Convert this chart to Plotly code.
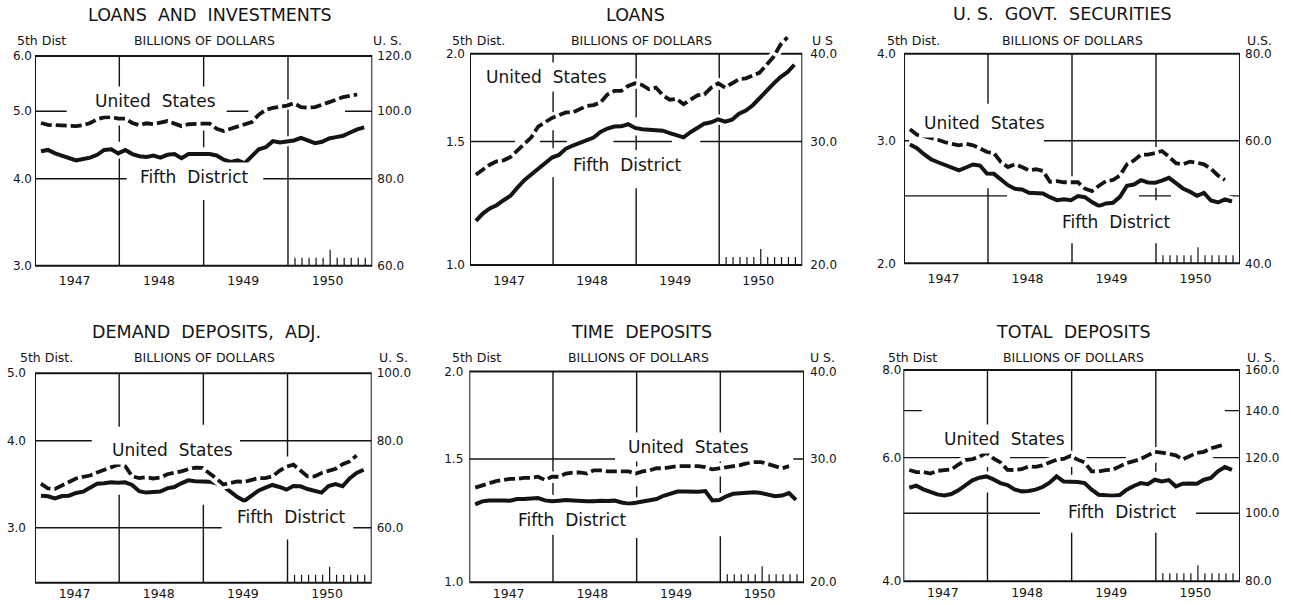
import math
import plotly.graph_objects as go

# ---------------- data: billions of dollars, monthly, Jan 1947 - Nov 1950 ----------------
months = [f"{1947 + i // 12}-{i % 12 + 1:02d}" for i in range(47)]
year_labels = ["1947", "1948", "1949", "1950"]

loans_inv_fd = [4.38, 4.40, 4.35, 4.32, 4.29, 4.25, 4.27, 4.29, 4.33, 4.40,
                4.41, 4.35, 4.40, 4.34, 4.31, 4.30, 4.32, 4.29, 4.33, 4.34,
                4.28, 4.34, 4.34, 4.34, 4.34, 4.32, 4.26, 4.23, 4.25, 4.21,
                4.31, 4.41, 4.44, 4.53, 4.51, 4.52, 4.54, 4.58, 4.54, 4.50,
                4.52, 4.57, 4.59, 4.61, 4.66, 4.71, 4.74]
loans_inv_us = [96.2, 95.6, 95.5, 95.4, 95.1, 95.2, 95.5, 96.2, 97.4, 98.0,
                98.1, 97.6, 97.6, 96.2, 95.5, 96.1, 95.8, 96.2, 96.8, 96.0,
                95.2, 95.8, 96.0, 96.0, 96.0, 94.4, 93.7, 94.4, 95.1, 95.6,
                96.5, 98.9, 100.5, 101.1, 101.4, 101.9, 102.7, 101.4, 101.2, 101.4,
                102.2, 102.9, 103.9, 104.8, 105.3, 105.7]

loans_fd = [1.156, 1.184, 1.204, 1.217, 1.237, 1.255, 1.289, 1.321, 1.346, 1.371,
            1.395, 1.423, 1.435, 1.465, 1.480, 1.493, 1.507, 1.519, 1.547, 1.565,
            1.575, 1.576, 1.587, 1.568, 1.561, 1.559, 1.561, 1.554, 1.542, 1.532,
            1.520, 1.546, 1.568, 1.590, 1.597, 1.613, 1.601, 1.611, 1.643, 1.660,
            1.689, 1.732, 1.768, 1.813, 1.853, 1.882, 1.929]
loans_us = [26.9, 27.4, 27.8, 28.1, 28.2, 28.5, 29.1, 29.8, 30.4, 31.5,
            32.0, 32.4, 32.7, 33.0, 33.0, 33.4, 33.7, 33.8, 34.1, 35.0,
            35.4, 35.4, 36.0, 36.3, 36.1, 35.6, 35.8, 34.9, 34.4, 34.5,
            33.9, 34.4, 34.9, 35.0, 35.8, 36.3, 35.8, 36.3, 36.8, 36.9,
            37.3, 37.6, 38.6, 39.6, 41.2, 42.2]

govt_fd = [2.962, 2.927, 2.869, 2.822, 2.794, 2.770, 2.742, 2.721, 2.746, 2.773,
           2.764, 2.692, 2.689, 2.639, 2.590, 2.559, 2.553, 2.525, 2.525, 2.520,
           2.489, 2.465, 2.473, 2.465, 2.498, 2.489, 2.449, 2.417, 2.438, 2.443,
           2.492, 2.585, 2.596, 2.633, 2.613, 2.610, 2.630, 2.654, 2.607, 2.562,
           2.534, 2.501, 2.525, 2.462, 2.446, 2.471, 2.454]
govt_us = [62.3, 61.2, 60.9, 60.6, 60.2, 59.7, 59.4, 59.1, 59.4, 59.1,
           58.5, 57.8, 57.6, 55.9, 55.0, 55.5, 55.0, 54.4, 54.6, 54.3,
           52.4, 52.5, 52.3, 52.3, 52.3, 51.2, 50.8, 51.7, 52.5, 52.7,
           53.5, 55.5, 56.2, 57.3, 57.3, 57.6, 58.0, 56.9, 55.7, 55.5,
           56.0, 55.8, 55.5, 54.7, 53.5, 52.7]

demand_fd = [3.335, 3.328, 3.305, 3.331, 3.335, 3.365, 3.380, 3.428, 3.470, 3.474,
             3.486, 3.482, 3.486, 3.455, 3.384, 3.369, 3.369, 3.380, 3.417, 3.432,
             3.474, 3.508, 3.497, 3.497, 3.493, 3.474, 3.440, 3.380, 3.320, 3.277,
             3.328, 3.391, 3.424, 3.455, 3.432, 3.402, 3.443, 3.440, 3.409, 3.384,
             3.369, 3.443, 3.466, 3.440, 3.531, 3.595, 3.634]
demand_us = [69.4, 68.3, 68.2, 69.0, 69.6, 70.6, 71.0, 71.3, 72.0, 72.6,
             73.2, 73.9, 73.6, 71.1, 70.7, 70.9, 70.6, 70.8, 71.6, 71.9,
             72.3, 72.8, 73.2, 73.1, 71.9, 70.6, 69.2, 69.6, 69.9, 69.8,
             70.2, 70.7, 70.7, 71.1, 72.4, 73.4, 73.9, 72.5, 71.1, 71.1,
             71.9, 72.4, 72.9, 74.0, 74.7, 76.2]

time_fd = [1.292, 1.305, 1.309, 1.311, 1.309, 1.308, 1.315, 1.315, 1.318, 1.319,
           1.309, 1.305, 1.308, 1.311, 1.309, 1.306, 1.305, 1.305, 1.308, 1.306,
           1.308, 1.300, 1.295, 1.299, 1.305, 1.308, 1.315, 1.329, 1.338, 1.348,
           1.348, 1.347, 1.347, 1.350, 1.309, 1.311, 1.327, 1.338, 1.341, 1.344,
           1.345, 1.341, 1.332, 1.327, 1.330, 1.341, 1.311]
time_us = [27.3, 27.5, 27.7, 27.9, 28.0, 28.1, 28.1, 28.2, 28.2, 28.3,
           28.0, 28.3, 28.3, 28.6, 28.7, 28.7, 28.6, 28.9, 28.9, 28.8,
           28.8, 28.8, 28.8, 28.6, 28.8, 28.9, 29.1, 29.1, 29.2, 29.3,
           29.3, 29.3, 29.3, 29.2, 29.0, 29.1, 29.2, 29.3, 29.4, 29.6,
           29.7, 29.7, 29.5, 29.3, 29.1, 29.3]

total_fd = [5.436, 5.472, 5.407, 5.354, 5.318, 5.301, 5.324, 5.389, 5.484, 5.568,
            5.617, 5.641, 5.586, 5.519, 5.484, 5.407, 5.371, 5.377, 5.401, 5.448,
            5.525, 5.641, 5.549, 5.549, 5.537, 5.519, 5.401, 5.312, 5.295, 5.295,
            5.307, 5.401, 5.466, 5.519, 5.500, 5.580, 5.549, 5.574, 5.460, 5.507,
            5.513, 5.507, 5.580, 5.611, 5.735, 5.817, 5.765]
total_us = [115.2, 114.4, 114.5, 113.9, 114.9, 115.1, 115.4, 117.3, 119.0, 119.4,
            120.3, 122.0, 119.7, 118.1, 115.3, 115.2, 115.5, 116.6, 116.4, 117.0,
            118.1, 119.2, 119.5, 120.7, 119.2, 118.1, 114.7, 114.7, 115.2, 115.3,
            116.6, 117.9, 118.6, 119.5, 120.9, 122.3, 122.0, 121.4, 120.9, 119.3,
            120.7, 121.9, 122.3, 123.7, 124.5, 125.3]

# ---------------- styling / layout ----------------
W, H = 1291, 605
FONT = "DejaVu Sans"
INK = "#141414"
NB = "\u00a0"
US_FACTOR = 20  # right (U.S.) scale = 20 x left (5th District) scale

# the photographed page shows the figure slightly letterboxed vertically;
# positions below are measured on the reference and mapped through this.
V_OFF, V_SC = 6.5, 0.9785


def ty(y):
    return (y - V_OFF) / V_SC


def month_x(m):
    y, mo = m.split("-")
    return int(y) + (int(mo) - 1 + 0.85) / 12.0


xs = [month_x(m) for m in months]

panels = [
    dict(title="LOANS" + NB + " AND" + NB + " INVESTMENTS", fd=loans_inv_fd, us=loans_inv_us,
         lo=3.0, hi=6.0, left=[6.0, 5.0, 4.0, 3.0], right=[120.0, 100.0, 80.0, 60.0],
         box=(35, 372.3, 55.7, 265.7), ext=0, lstand=2, rstand=4,
         dist="5th Dist", us_lab="U." + NB + "S.", title_c=(210, 15), dist_x=15, bil_x=204, us_x=387,
         us_txt=(155, 101), fd_txt=(194, 177),
         gh=[(5.0, [(1947, 1947.376), (1949.273, 1949.53), (1950.676, 1951)]),
             (4.0, [(1947, 1948.087), (1949.707, 1951)])],
         gv=[(1948, [(4.96, 6.0), (4.52, 4.77), (3.0, 4.28)]),
             (1949, [(5.30, 6.0), (4.44, 4.69), (3.0, 3.73)]),
             (1950, [(3.0, 6.0)])]),
    dict(title="LOANS", fd=loans_fd, us=loans_us,
         lo=1.0, hi=2.0, left=[2.0, 1.5, 1.0], right=[40.0, 30.0, 20.0],
         box=(470, 802.3, 53.3, 265), ext=22, lstand=4, rstand=7,
         dist="5th Dist.", us_lab="U" + NB + "S", title_c=(635, 15), dist_x=450, bil_x=641, us_x=822,
         us_txt=(546, 77), fd_txt=(627, 165),
         gh=[(1.5, [(1947, 1947.542), (1947.843, 1948.165), (1948.727, 1949.43), (1949.771, 1951)])],
         gv=[(1948, [(1.65, 2.0), (1.467, 1.556), (1.0, 1.334)]),
             (1949, [(1.623, 2.0), (1.457, 1.53), (1.0, 1.287)]),
             (1950, [(1.0, 2.0)])]),
    dict(title="U." + NB + "S." + NB + " GOVT." + NB + " SECURITIES", fd=govt_fd, us=govt_us,
         lo=2.0, hi=4.0, left=[4.0, 3.0, 2.0], right=[80.0, 60.0, 40.0],
         box=(904, 1240, 53.3, 263.3), ext=0, lstand=7, rstand=4,
         dist="5th Dist.", us_lab="U.S.", title_c=(1062, 14), dist_x=885, bil_x=1072, us_x=1259,
         us_txt=(984, 123), fd_txt=(1116, 222),
         gh=[(3.0, [(1947, 1947.06), (1948.667, 1951)]),
             (2.5, [(1947, 1948.226), (1949.798, 1950.179), (1950.786, 1951)])],
         gv=[(1948, [(3.39, 4.0), (2.0, 2.564)]),
             (1949, [(2.668, 4.0), (2.0, 2.138)]),
             (1950, [(2.936, 4.0), (2.464, 2.59), (2.0, 2.138)])]),
    dict(title="DEMAND" + NB + " DEPOSITS," + NB + " ADJ.", fd=demand_fd, us=demand_us,
         lo=2.5, hi=5.0, left=[5.0, 4.0, 3.0], right=[100.0, 80.0, 60.0],
         box=(35, 371.7, 373.3, 583.3), ext=0, lstand=8, rstand=4,
         dist="5th Dist.", us_lab="U." + NB + "S.", title_c=(207, 332), dist_x=18, bil_x=204, us_x=393,
         us_txt=(172, 450), fd_txt=(291, 517),
         gh=[(4.0, [(1947, 1947.674), (1949.435, 1951)]),
             (3.0, [(1947, 1949.218), (1950.781, 1951)])],
         gv=[(1948, [(4.19, 5.0), (2.5, 3.346)]),
             (1949, [(4.215, 5.0), (2.5, 3.237)]),
             (1950, [(3.797, 5.0), (2.5, 2.884)])]),
    dict(title="TIME" + NB + " DEPOSITS", fd=time_fd, us=time_us,
         lo=1.0, hi=2.0, left=[2.0, 1.5, 1.0], right=[40.0, 30.0, 20.0],
         box=(469.3, 804, 371.7, 582.7), ext=0, lstand=5, rstand=5,
         dist="5th Dist", us_lab="U" + NB + "S.", title_c=(641, 332), dist_x=450, bil_x=638, us_x=822,
         us_txt=(688, 447), fd_txt=(572, 520),
         gh=[(1.5, [(1947, 1948.742), (1950.872, 1951)])],
         gv=[(1948, [(1.44, 2.0), (1.334, 1.386), (1.0, 1.17)]),
             (1949, [(1.464, 2.0), (1.32, 1.371), (1.0, 1.157)]),
             (1950, [(1.472, 2.0), (1.341, 1.416), (1.0, 1.163)])]),
    dict(title="TOTAL" + NB + " DEPOSITS", fd=total_fd, us=total_us,
         lo=4.0, hi=8.0, left=[8.0, 6.0, 4.0], right=[160.0, 140.0, 120.0, 100.0, 80.0],
         box=(903.3, 1240, 370, 581.7), ext=0, lstand=1, rstand=4,
         dist="5th Dist", us_lab="U." + NB + "S.", title_c=(1073, 332), dist_x=886, bil_x=1073, us_x=1261,
         us_txt=(1004, 439), fd_txt=(1122, 512),
         gh=[(7.0, [(1947, 1947.22), (1950.82, 1951)]),
             (6.0, [(1947, 1947.709), (1948.268, 1948.862), (1949.171, 1949.646), (1950.68, 1951)]),
             (5.0, [(1947, 1948.624), (1950.478, 1951)])],
         gv=[(1948, [(6.12, 8.0), (5.71, 5.82), (4.0, 5.35)]),
             (1949, [(6.09, 8.0), (5.67, 5.82), (4.0, 4.69)]),
             (1950, [(6.2, 8.0), (5.73, 5.9), (4.0, 4.69)])]),
]

fig = go.Figure()
shapes = []
annotations = []
layout_axes = {}


def ann(px, py, text, size, xanchor="center", bg=None):
    d = dict(x=px / W, y=1 - ty(py) / H, xref="paper", yref="paper", text=text,
             showarrow=False, xanchor=xanchor, yanchor="middle",
             font=dict(family=FONT, size=size, color=INK))
    if bg:
        d.update(bgcolor=bg, borderpad=4)
    return d


for k, p in enumerate(panels, start=1):
    xr = "x" if k == 1 else f"x{k}"
    yl_n, yr_n = 2 * k - 1, 2 * k
    yl = "y" if yl_n == 1 else f"y{yl_n}"
    yr = f"y{yr_n}"
    top_row = k <= 3
    x0p, x1p, ytp_ref, ybp_ref = p["box"]
    ytp, ybp = ty(ytp_ref), ty(ybp_ref)
    ext = p["ext"] / V_SC
    fh = ybp - ytp
    span = math.log10(p["hi"] / p["lo"])
    top_extra = ext * span / fh
    ydom = [1 - ybp / H, min(1.0, 1 - (ytp - ext) / H)]

    layout_axes["xaxis" if k == 1 else f"xaxis{k}"] = dict(
        domain=[x0p / W, x1p / W], range=[1947, 1951], anchor=yl,
        tickvals=[int(y) + 0.47 for y in year_labels], ticktext=year_labels,
        ticks="", ticklen=0, showgrid=False, zeroline=False, showline=False,
        ticklabelstandoff=6 if top_row else 2,
        tickfont=dict(family=FONT, size=12.5, color=INK))
    layout_axes["yaxis" if yl_n == 1 else f"yaxis{yl_n}"] = dict(
        domain=ydom, type="log", anchor=xr, side="left",
        range=[math.log10(p["lo"]), math.log10(p["hi"]) + top_extra],
        tickvals=p["left"], ticktext=[f"{v:.1f}" for v in p["left"]],
        ticks="", showgrid=False, zeroline=False, showline=False,
        ticklabelstandoff=p["lstand"], tickfont=dict(family=FONT, size=12, color=INK))
    layout_axes[f"yaxis{yr_n}"] = dict(
        domain=ydom, type="log", anchor=xr, side="right", overlaying=yl,
        range=[math.log10(p["lo"] * US_FACTOR), math.log10(p["hi"] * US_FACTOR) + top_extra],
        tickvals=p["right"], ticktext=[f"{v:.1f}" for v in p["right"]],
        ticks="", showgrid=False, zeroline=False, showline=False,
        ticklabelstandoff=p["rstand"], tickfont=dict(family=FONT, size=12, color=INK))

    # frame
    shapes.append(dict(type="rect", xref=xr, yref=f"{yl} domain", x0=1947, x1=1951,
                       y0=0, y1=fh / (fh + ext), layer="below",
                       line=dict(color=INK, width=2)))
    # broken grid lines (shape coordinates on log axes are given in data units)
    for val, segs in p["gh"]:
        for a, b in segs:
            shapes.append(dict(type="line", xref=xr, yref=yl, x0=a, x1=b,
                               y0=val, y1=val, layer="below",
                               line=dict(color=INK, width=1.4)))
    for yr_, segs in p["gv"]:
        for a, b in segs:
            shapes.append(dict(type="line", xref=xr, yref=yl, x0=yr_, x1=yr_,
                               y0=a, y1=b, layer="below",
                               line=dict(color=INK, width=1.4)))
    # month ticks for 1950
    for m in range(1, 12):
        shapes.append(dict(type="line", xref=xr, yref=f"{yl} domain",
                           x0=1950 + m / 12, x1=1950 + m / 12,
                           ysizemode="pixel", yanchor=0, y0=0, y1=16 if m == 6 else 8,
                           layer="below", line=dict(color=INK, width=1.2)))

    # curves with white halos (breaks the grid where curves pass)
    fig.add_trace(go.Scatter(x=xs[:len(p["fd"])], y=p["fd"], xaxis=xr, yaxis=yl, mode="lines",
                             line=dict(color="white", width=10), hoverinfo="skip", showlegend=False))
    fig.add_trace(go.Scatter(x=xs[:len(p["fd"])], y=p["fd"], xaxis=xr, yaxis=yl, mode="lines",
                             name="Fifth District", line=dict(color=INK, width=4), showlegend=False))
    fig.add_trace(go.Scatter(x=xs[:len(p["us"])], y=p["us"], xaxis=xr, yaxis=yr, mode="lines",
                             line=dict(color="white", width=10), hoverinfo="skip", showlegend=False))
    fig.add_trace(go.Scatter(x=xs[:len(p["us"])], y=p["us"], xaxis=xr, yaxis=yr, mode="lines",
                             name="United States", line=dict(color=INK, width=3.8, dash="11px,4px"),
                             showlegend=False))

    # texts
    sub_y = 40 if top_row else 358
    annotations.append(ann(*p["title_c"], p["title"], 17.5))
    annotations.append(ann(p["dist_x"], sub_y, p["dist"], 12.5, xanchor="left"))
    annotations.append(ann(p["bil_x"], sub_y, "BILLIONS OF DOLLARS", 12.5))
    annotations.append(ann(p["us_x"], sub_y, p["us_lab"], 12.5))
    annotations.append(ann(*p["us_txt"], "United" + NB + " States", 17, bg="white"))
    annotations.append(ann(*p["fd_txt"], "Fifth" + NB + " District", 17, bg="white"))

fig.update_layout(
    width=W, height=H, margin=dict(l=0, r=0, t=0, b=0),
    paper_bgcolor="white", plot_bgcolor="rgba(0,0,0,0)",
    font=dict(family=FONT, color=INK),
    shapes=shapes, annotations=annotations, showlegend=False,
    **layout_axes)

PIN_TO_VIEWPORT = (
    "document.documentElement.style.margin='0';"
    "document.documentElement.style.overflow='hidden';"
    "document.body.style.margin='0';document.body.style.overflow='hidden';"
    "var g=document.getElementById('{plot_id}');"
    "g.style.position='fixed';g.style.left='0px';g.style.top='0px';"
)

fig.write_html("out.html", config={"responsive": False, "displayModeBar": False},
               post_script=PIN_TO_VIEWPORT)
